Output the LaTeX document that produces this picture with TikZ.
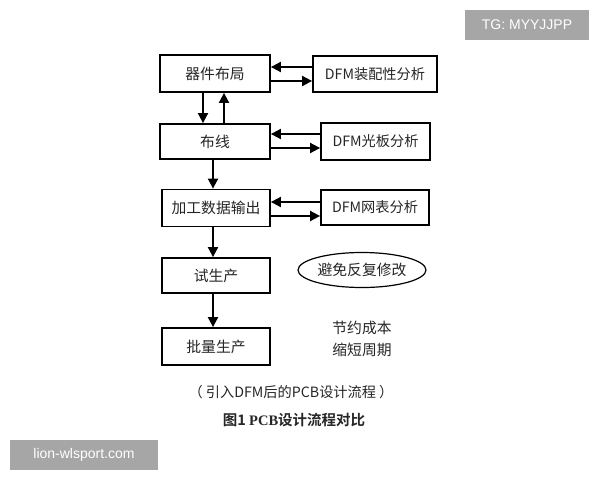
\documentclass[tikz,border=0pt]{standalone}
\usepackage{fontspec}
\setmainfont{Liberation Sans}
\newfontfamily\cjk{Noto Sans CJK SC}
\newfontfamily\cjkb{Noto Sans CJK SC}[BoldFont={Noto Sans CJK SC Bold}]
\newfontfamily\tagfont{Liberation Sans}
\usetikzlibrary{arrows.meta,shapes.geometric}
\begin{document}
\begin{tikzpicture}[x=1pt,y=-1pt,
  box/.style={draw=black,line width=1.8pt,rectangle,inner sep=0pt,font=\cjk\fontsize{14.8}{16}\selectfont,text=black!85},
  dbox/.style={draw=black,line width=1.8pt,rectangle,inner sep=0pt,font=\cjk\fontsize{14.2}{15}\selectfont,text=black!85},
  arr/.style={line width=1.8pt,-{Triangle[length=10pt,width=10pt]}},
  tagbox/.style={fill=black!35,text=white,inner sep=0pt,font=\tagfont\fontsize{14}{16}\selectfont}
]
\useasboundingbox (0,0) rectangle (600,480);
\fill[white] (0,0) rectangle (600,480);
% left column
\node[box,minimum width=110pt,minimum height=37pt] (b1) at (215,73.5) {器件布局};
\node[box,minimum width=110pt,minimum height=35pt] (b2) at (215,141.5) {布线};
\node[box,minimum width=108pt,minimum height=37pt] (b3) at (216,208) {加工数据输出};
\node[box,minimum width=108pt,minimum height=35pt] (b4) at (216,275.5) {试生产};
\node[box,minimum width=108pt,minimum height=37pt] (b5) at (216,346.5) {批量生产};
% right column
\node[dbox,minimum width=124pt,minimum height=36pt] (d1) at (375,74) {DFM装配性分析};
\node[dbox,minimum width=109pt,minimum height=37pt] (d2) at (375.5,141.5) {DFM光板分析};
\node[dbox,minimum width=108pt,minimum height=35pt] (d3) at (375,207.5) {DFM网表分析};
% horizontal arrows
\draw[arr] (d1.west |- 0,67) -- (b1.east |- 0,67);
\draw[arr] (b1.east |- 0,81) -- (d1.west |- 0,81);
\draw[arr] (d2.west |- 0,134) -- (b2.east |- 0,134);
\draw[arr] (b2.east |- 0,148) -- (d2.west |- 0,148);
\draw[arr] (d3.west |- 0,202) -- (b3.east |- 0,202);
\draw[arr] (b3.east |- 0,216) -- (d3.west |- 0,216);
% vertical arrows
\draw[arr] (b1.south -| 203,0) -- (b2.north -| 203,0);
\draw[arr] (b2.north -| 224,0) -- (b1.south -| 224,0);
\draw[arr] (b2.south -| 213,0) -- (b3.north -| 213,0);
\draw[arr] (b3.south -| 213,0) -- (b4.north -| 213,0);
\draw[arr] (b4.south -| 213,0) -- (b5.north -| 213,0);
% ellipse and notes
\node[ellipse,draw=black,line width=1.2pt,minimum width=128pt,minimum height=35pt,inner sep=0pt,font=\cjk\fontsize{14.8}{16}\selectfont,text=black!85] (e) at (362,270) {避免反复修改};
\node[font=\cjk\fontsize{14.8}{16}\selectfont,text=black!85] (n1) at (362,328) {节约成本};
\node[font=\cjk\fontsize{14.8}{16}\selectfont,text=black!85] (n2) at (362,350) {缩短周期};
% captions
\node[font=\cjk\fontsize{14.2}{15}\selectfont,text=black!85] (c1) at (291,392) {（ 引入DFM后的PCB设计流程 ）};
\node[font=\cjkb\bfseries\fontsize{14.5}{15}\selectfont,text=black!85] (c2) at (294,420) {图1 {\fontspec{Liberation Serif}\bfseries PCB}设计流程对比};
% tags
\node[tagbox,minimum width=124pt,minimum height=30pt] (t1) at (527,25) {TG: MYYJJPP};
\node[tagbox,minimum width=148pt,minimum height=30pt] (t2) at (84,455) {lion-wlsport.com};
\end{tikzpicture}
\end{document}
